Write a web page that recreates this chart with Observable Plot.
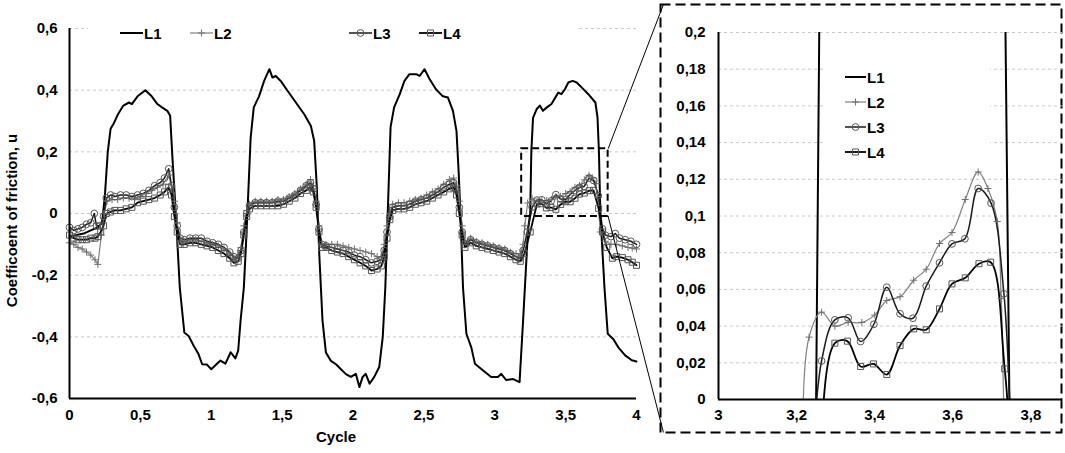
<!DOCTYPE html>
<html><head><meta charset="utf-8">
<script src="https://cdn.jsdelivr.net/npm/d3@7"></script>
<script src="https://cdn.jsdelivr.net/npm/@observablehq/plot@0.6"></script>
<style>
body{margin:0;background:#fff;}
#wrap{position:relative;width:1065px;height:453px;overflow:hidden;font-family:'Liberation Sans',Arial,sans-serif;}
#main,#inset,#legend{position:absolute;top:0;}
#main{left:0;} #inset{left:655px;} #legend{left:0;}
</style></head><body><div id="wrap"><div id="main"></div><div id="inset"></div><svg id="legend" width="1065" height="453"></svg></div>
<script>
const seriesNames = ["L1", "L2", "L3", "L4"];
const xTicksMain = [0, 0.5, 1, 1.5, 2, 2.5, 3, 3.5, 4];
const yTicksMain = [-0.6, -0.4, -0.2, 0, 0.2, 0.4, 0.6];
const xTicksInset = [3, 3.2, 3.4, 3.6, 3.8];
const yTicksInset = [0, 0.02, 0.04, 0.06, 0.08, 0.1, 0.12, 0.14, 0.16, 0.18, 0.2];
const zoomBox = [3.19, 3.80, -0.01, 0.21];

const L1 = [[0,-0.075],[0.05,-0.07],[0.1,-0.065],[0.15,-0.055],[0.2,-0.045],[0.23,-0.03],[0.25,0.06],[0.27,0.2],[0.29,0.275],[0.31,0.29],[0.34,0.32],[0.38,0.35],[0.42,0.36],[0.44,0.355],[0.48,0.38],[0.535,0.40],[0.58,0.38],[0.62,0.355],[0.65,0.345],[0.69,0.333],[0.71,0.317],[0.725,0.19],[0.75,0.0],[0.778,-0.24],[0.81,-0.386],[0.84,-0.397],[0.877,-0.43],[0.91,-0.456],[0.936,-0.489],[0.97,-0.49],[1.0,-0.505],[1.035,-0.49],[1.065,-0.477],[1.1,-0.487],[1.137,-0.45],[1.17,-0.47],[1.19,-0.445],[1.207,-0.347],[1.23,-0.24],[1.245,-0.1],[1.255,0.0],[1.278,0.246],[1.30,0.344],[1.337,0.38],[1.373,0.43],[1.41,0.468],[1.432,0.441],[1.455,0.446],[1.49,0.43],[1.538,0.398],[1.597,0.36],[1.656,0.322],[1.703,0.284],[1.726,0.236],[1.745,0.084],[1.762,-0.132],[1.785,-0.348],[1.809,-0.451],[1.844,-0.478],[1.88,-0.489],[1.915,-0.505],[1.95,-0.521],[1.985,-0.53],[2.02,-0.52],[2.045,-0.563],[2.068,-0.53],[2.09,-0.52],[2.117,-0.552],[2.15,-0.53],[2.185,-0.498],[2.21,-0.40],[2.228,-0.24],[2.245,0.0],[2.265,0.28],[2.29,0.344],[2.33,0.387],[2.363,0.43],[2.398,0.452],[2.446,0.452],[2.47,0.446],[2.505,0.468],[2.54,0.436],[2.585,0.403],[2.634,0.38],[2.67,0.376],[2.705,0.333],[2.73,0.268],[2.745,0.138],[2.76,-0.024],[2.776,-0.24],[2.80,-0.39],[2.835,-0.435],[2.86,-0.487],[2.905,-0.504],[2.975,-0.53],[3.022,-0.53],[3.046,-0.52],[3.08,-0.54],[3.13,-0.537],[3.175,-0.547],[3.2,-0.347],[3.235,-0.05],[3.25,0.0],[3.258,0.2],[3.27,0.31],[3.295,0.338],[3.318,0.35],[3.34,0.333],[3.37,0.345],[3.4,0.355],[3.448,0.392],[3.47,0.387],[3.495,0.403],[3.519,0.425],[3.55,0.43],[3.578,0.425],[3.613,0.409],[3.66,0.387],[3.71,0.36],[3.725,0.311],[3.735,0.2],[3.745,0.0],[3.774,-0.24],[3.797,-0.39],[3.837,-0.408],[3.873,-0.435],[3.92,-0.46],[3.967,-0.476],[4.0,-0.48]];

const L2 = [[0,-0.095],[0.03,-0.1],[0.06,-0.11],[0.09,-0.115],[0.12,-0.125],[0.15,-0.135],[0.18,-0.15],[0.2,-0.165],[0.225,-0.07],[0.245,0.0],[0.265,0.04],
[0.30,0.045],[0.34,0.045],[0.38,0.05],[0.42,0.05],[0.46,0.05],[0.50,0.055],[0.54,0.065],[0.58,0.075],[0.62,0.085],[0.66,0.095],[0.70,0.125],[0.72,0.09],[0.74,0.04],[0.76,-0.03],[0.78,-0.09],
[0.81,-0.09],[0.85,-0.085],[0.89,-0.085],[0.93,-0.09],[0.97,-0.095],[1.01,-0.1],[1.05,-0.105],[1.09,-0.115],[1.13,-0.13],[1.16,-0.145],[1.19,-0.14],[1.21,-0.11],[1.23,-0.04],[1.25,0.01],
[1.27,0.03],[1.31,0.04],[1.35,0.04],[1.39,0.04],[1.43,0.04],[1.47,0.045],[1.51,0.045],[1.55,0.055],[1.59,0.065],[1.63,0.08],[1.67,0.095],[1.70,0.11],[1.72,0.09],[1.74,0.04],[1.76,-0.04],[1.78,-0.1],
[1.81,-0.1],[1.85,-0.1],[1.89,-0.1],[1.93,-0.105],[1.97,-0.11],[2.01,-0.115],[2.05,-0.12],[2.09,-0.125],[2.13,-0.13],[2.17,-0.14],[2.20,-0.14],[2.22,-0.1],[2.24,-0.04],[2.26,0.0],
[2.28,0.03],[2.32,0.035],[2.36,0.035],[2.40,0.04],[2.44,0.045],[2.48,0.05],[2.52,0.06],[2.56,0.07],[2.60,0.08],[2.64,0.095],[2.68,0.11],[2.71,0.115],[2.73,0.09],[2.75,0.04],[2.77,-0.04],[2.79,-0.09],
[2.83,-0.08],[2.87,-0.09],[2.91,-0.095],[2.95,-0.1],[2.99,-0.105],[3.03,-0.11],[3.07,-0.115],[3.11,-0.125],[3.15,-0.13],[3.18,-0.13],[3.20,-0.1],[3.212,-0.04],
[3.232,0.034],[3.264,0.0476],[3.298,0.040],[3.332,0.042],[3.367,0.042],[3.40,0.046],[3.431,0.054],[3.465,0.056],[3.50,0.065],[3.532,0.071],[3.566,0.085],[3.598,0.091],[3.632,0.109],[3.665,0.124],[3.69,0.115],[3.714,0.097],[3.724,0.055],[3.745,-0.06],[3.78,-0.09],
[3.82,-0.1],[3.86,-0.1],[3.90,-0.105],[3.94,-0.11],[3.97,-0.112],[4.0,-0.115]];

const L3 = [[0,-0.045],[0.03,-0.055],[0.06,-0.05],[0.09,-0.045],[0.12,-0.035],[0.15,-0.03],[0.175,0.0],[0.19,-0.04],[0.215,-0.04],[0.24,-0.01],[0.26,0.05],
[0.29,0.06],[0.32,0.055],[0.36,0.06],[0.40,0.06],[0.44,0.055],[0.48,0.06],[0.52,0.065],[0.56,0.075],[0.60,0.09],[0.64,0.10],[0.67,0.115],[0.70,0.145],[0.72,0.09],[0.74,0.02],[0.76,-0.04],[0.78,-0.08],
[0.81,-0.085],[0.85,-0.08],[0.89,-0.08],[0.93,-0.08],[0.97,-0.09],[1.01,-0.095],[1.05,-0.1],[1.09,-0.11],[1.13,-0.125],[1.16,-0.14],[1.19,-0.145],[1.21,-0.12],[1.23,-0.06],[1.25,0.0],
[1.27,0.025],[1.31,0.035],[1.35,0.035],[1.39,0.035],[1.43,0.035],[1.47,0.04],[1.51,0.04],[1.55,0.05],[1.59,0.06],[1.63,0.075],[1.67,0.09],[1.70,0.10],[1.72,0.08],[1.74,0.03],[1.76,-0.05],[1.78,-0.1],
[1.81,-0.105],[1.85,-0.11],[1.89,-0.115],[1.93,-0.12],[1.97,-0.125],[2.01,-0.135],[2.05,-0.14],[2.09,-0.15],[2.13,-0.16],[2.17,-0.155],[2.20,-0.15],[2.22,-0.12],[2.24,-0.06],[2.26,-0.01],
[2.28,0.02],[2.32,0.025],[2.36,0.025],[2.40,0.03],[2.44,0.04],[2.48,0.045],[2.52,0.05],[2.56,0.06],[2.60,0.07],[2.64,0.085],[2.68,0.095],[2.71,0.1],[2.73,0.075],[2.75,0.02],[2.77,-0.06],[2.79,-0.1],
[2.83,-0.085],[2.87,-0.095],[2.91,-0.1],[2.95,-0.105],[2.99,-0.11],[3.03,-0.115],[3.07,-0.12],[3.11,-0.13],[3.15,-0.14],[3.18,-0.145],[3.20,-0.12],[3.23,-0.06],
[3.264,0.021],[3.298,0.0434],[3.332,0.0445],[3.364,0.0316],[3.398,0.041],[3.431,0.0612],[3.465,0.0467],[3.498,0.0443],[3.532,0.0618],[3.566,0.0745],[3.598,0.0848],[3.631,0.0876],[3.665,0.115],[3.698,0.107],[3.731,0.0576],[3.76,-0.05],[3.78,-0.07],
[3.82,-0.075],[3.85,-0.065],[3.88,-0.08],[3.92,-0.085],[3.96,-0.09],[4.0,-0.1]];

const L4 = [[0,-0.07],[0.03,-0.08],[0.06,-0.085],[0.09,-0.085],[0.12,-0.085],[0.15,-0.08],[0.18,-0.08],[0.2,-0.075],[0.22,-0.06],[0.24,-0.04],[0.26,0.0],
[0.29,0.005],[0.32,0.01],[0.36,0.01],[0.40,0.015],[0.44,0.02],[0.48,0.035],[0.52,0.04],[0.56,0.045],[0.60,0.05],[0.64,0.06],[0.67,0.07],[0.70,0.085],[0.72,0.06],[0.74,-0.01],[0.76,-0.06],[0.78,-0.1],
[0.81,-0.1],[0.85,-0.095],[0.89,-0.095],[0.93,-0.1],[0.97,-0.105],[1.01,-0.11],[1.05,-0.12],[1.09,-0.13],[1.13,-0.145],[1.16,-0.16],[1.19,-0.155],[1.21,-0.13],[1.23,-0.07],[1.25,-0.01],
[1.27,0.015],[1.31,0.025],[1.35,0.025],[1.39,0.025],[1.43,0.025],[1.47,0.025],[1.51,0.03],[1.55,0.04],[1.59,0.05],[1.63,0.065],[1.67,0.075],[1.70,0.085],[1.72,0.07],[1.74,0.02],[1.76,-0.06],[1.78,-0.11],
[1.81,-0.11],[1.85,-0.12],[1.89,-0.125],[1.93,-0.13],[1.97,-0.14],[2.01,-0.15],[2.05,-0.16],[2.09,-0.17],[2.13,-0.185],[2.17,-0.18],[2.20,-0.17],[2.22,-0.14],[2.24,-0.08],[2.26,-0.02],
[2.28,0.01],[2.32,0.015],[2.36,0.015],[2.40,0.02],[2.44,0.03],[2.48,0.035],[2.52,0.04],[2.56,0.05],[2.60,0.06],[2.64,0.07],[2.68,0.08],[2.71,0.085],[2.73,0.06],[2.75,0.0],[2.77,-0.07],[2.79,-0.11],
[2.83,-0.095],[2.87,-0.105],[2.91,-0.11],[2.95,-0.115],[2.99,-0.12],[3.03,-0.125],[3.07,-0.13],[3.11,-0.14],[3.15,-0.15],[3.18,-0.155],[3.21,-0.13],[3.25,-0.06],
[3.298,0.0307],[3.33,0.0318],[3.364,0.018],[3.397,0.0194],[3.431,0.0136],[3.465,0.0294],[3.50,0.0385],[3.532,0.038],[3.566,0.0494],[3.598,0.063],[3.632,0.0663],[3.667,0.074],[3.697,0.0748],[3.733,0.0167],[3.76,-0.06],[3.79,-0.11],
[3.83,-0.145],[3.86,-0.14],[3.90,-0.143],[3.94,-0.15],[3.97,-0.158],[4.0,-0.168]];

const fmt = d => String(d).replace(".", ",");
const FONT = "'Liberation Sans', Arial, sans-serif";
const styles = {
  L1: {stroke: "#000", width: 2, symbol: null},
  L2: {stroke: "#808080", width: 1.2, symbol: "plus", mstroke: "#707070", r: 2.4},
  L3: {stroke: "#1a1a1a", width: 1.5, symbol: "circle", mstroke: "#555", r: 3.4},
  L4: {stroke: "#000", width: 1.8, symbol: "square", mstroke: "#555", r: 3.4}
};
const seriesData = {L1, L2, L3, L4};

function seriesMarks(curve, filterX, clip) {
  const marks = [];
  for (const name of seriesNames) {
    const s = styles[name];
    const data = seriesData[name].filter(d => d[0] >= filterX[0] && d[0] <= filterX[1]);
    marks.push(Plot.line(data, {x: d => d[0], y: d => d[1], stroke: s.stroke, strokeWidth: s.width, curve: name === "L1" ? "linear" : curve, clip}));
  }
  for (const name of seriesNames) {
    const s = styles[name];
    if (!s.symbol) continue;
    const data = seriesData[name].filter(d => d[0] >= filterX[0] && d[0] <= filterX[1]);
    marks.push(Plot.dot(data, {x: d => d[0], y: d => d[1], symbol: s.symbol, r: s.r, stroke: s.mstroke, strokeWidth: 1, fill: "none", clip}));
  }
  return marks;
}

const main = Plot.plot({
  width: 665, height: 453,
  marginLeft: 69, marginRight: 29, marginTop: 28, marginBottom: 55,
  style: {fontFamily: FONT, fontSize: "15px", fontWeight: "bold", color: "#000", background: "transparent", overflow: "visible"},
  x: {domain: [0, 4]},
  y: {domain: [-0.6, 0.6]},
  marks: [
    Plot.gridY(yTicksMain.filter(d => d > -0.6), {stroke: "#c8c8c8", strokeOpacity: 1, strokeDasharray: "3,3"}),
    ...seriesMarks("linear", [0, 4], false),
    Plot.rect([zoomBox], {x1: d => d[0], x2: d => d[1], y1: d => d[2], y2: d => d[3], fill: "none", stroke: "#000", strokeWidth: 2, strokeDasharray: "7,4"}),
    Plot.link([[zoomBox[1], zoomBox[3], 4.19, 0.678], [zoomBox[1], zoomBox[2], 4.19, -0.71]], {x1: d => d[0], y1: d => d[1], x2: d => d[2], y2: d => d[3], stroke: "#000", strokeWidth: 1}),
    Plot.ruleX([0], {stroke: "#000", strokeWidth: 2}),
    Plot.ruleY([-0.6], {stroke: "#000", strokeWidth: 2}),
    Plot.axisX({ticks: xTicksMain, tickSize: 0, tickPadding: 11, tickFormat: fmt, label: null}),
    Plot.axisY({ticks: yTicksMain, tickSize: 0, tickPadding: 12, tickFormat: fmt, label: null}),
    Plot.text(["Cycle"], {frameAnchor: "bottom", textAnchor: "middle", dx: -17, dy: 43, fontSize: 15, fontWeight: "bold"}),
    Plot.text(["Coefficoent of friction, u"], {frameAnchor: "left", textAnchor: "middle", rotate: -90, dx: -57, dy: 7, fontSize: 15, fontWeight: "bold"})
  ]
});
document.getElementById("main").appendChild(main);

const inset = Plot.plot({
  width: 410, height: 440,
  marginLeft: 63, marginRight: 3, marginTop: 32, marginBottom: 41,
  style: {fontFamily: FONT, fontSize: "15px", fontWeight: "bold", color: "#000", background: "transparent", overflow: "visible"},
  x: {domain: [3, 3.881]},
  y: {domain: [0, 0.2]},
  marks: [
    Plot.frame({stroke: "#000", strokeWidth: 2, strokeDasharray: "10,5", insetLeft: -58, insetTop: -28, insetRight: 1, insetBottom: -33}),
    Plot.gridY(yTicksInset.filter(d => d > 0), {stroke: "#c8c8c8", strokeOpacity: 1, strokeDasharray: "3,3"}),
    ...seriesMarks("catmull-rom", [3.1, 3.85], true),
    Plot.ruleX([3], {stroke: "#000", strokeWidth: 2}),
    Plot.ruleY([0], {stroke: "#000", strokeWidth: 2}),
    Plot.axisX({ticks: xTicksInset, tickSize: 0, tickPadding: 10, tickFormat: fmt, label: null}),
    Plot.axisY({ticks: yTicksInset, tickSize: 0, tickPadding: 13, tickFormat: fmt, label: null})
  ]
});
document.getElementById("inset").appendChild(inset);

// legends
const leg = d3.select("#legend").style("font-family", FONT).style("font-weight", "bold").style("font-size", "15px");
function drawLegend(entries, len, bg) {
  leg.append("rect").attr("x", bg[0]).attr("y", bg[1]).attr("width", bg[2]).attr("height", bg[3]).attr("fill", "#fff");
  entries.forEach(([name, x0, y]) => {
    const s = styles[name];
    leg.append("line").attr("x1", x0).attr("x2", x0 + len).attr("y1", y).attr("y2", y).attr("stroke", s.stroke).attr("stroke-width", s.width);
    if (s.symbol) {
      const sym = {plus: d3.symbolPlus, circle: d3.symbolCircle, square: d3.symbolSquare}[s.symbol];
      leg.append("path").attr("d", d3.symbol(sym, Math.PI * s.r * s.r)()).attr("transform", `translate(${x0 + len / 2},${y})`)
        .attr("fill", "none").attr("stroke", s.mstroke);
    }
    leg.append("text").attr("x", x0 + len + 1).attr("y", y).attr("dominant-baseline", "central").text(name);
  });
}
drawLegend(seriesNames.map((n, i) => [n, [120, 190, 349, 419][i], 33]), 23, [88, 20, 489, 26]);
drawLegend(seriesNames.map((n, i) => [n, 845, [77, 102, 127, 152][i]]), 21, [823, 60, 167, 105]);
</script></body></html>
